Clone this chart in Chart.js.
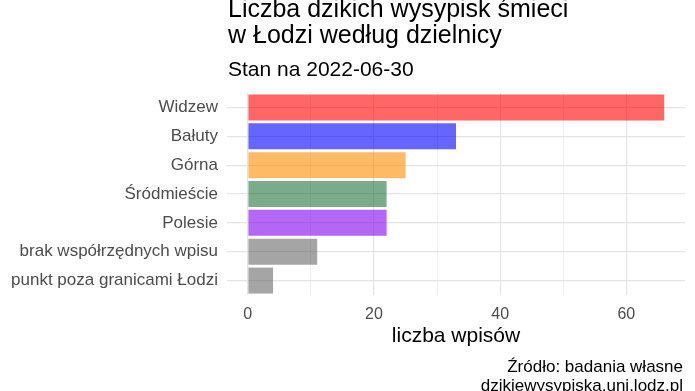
<!DOCTYPE html>
<html>
<head>
<meta charset="utf-8">
<script src="https://cdn.jsdelivr.net/npm/chart.js@4"></script>
<style>
  html, body { margin: 0; padding: 0; background: #fff; }
</style>
</head>
<body>
<canvas id="myChart" width="695" height="391"></canvas>
<script>
let districts = ["Widzew", "Bałuty", "Górna", "Śródmieście", "Polesie", "brak współrzędnych wpisu", "punkt poza granicami Łodzi"];
let counts = [66, 33, 25, 22, 22, 11, 4];
let barColors = [
    'rgba(255, 0, 0, 0.6)',
    'rgba(0, 0, 255, 0.6)',
    'rgba(255, 140, 0, 0.6)',
    'rgba(33, 117, 63, 0.6)',
    'rgba(140, 20, 240, 0.65)',
    'rgba(105, 105, 105, 0.6)',
    'rgba(105, 105, 105, 0.6)'
];
let xTicks = [0, 10, 20, 30, 40, 50, 60];
let xTickLabels = ["0", "", "20", "", "40", "", "60"];
let titleLines = ["Liczba dzikich wysypisk śmieci", "w Łodzi według dzielnicy"];
let subtitle = "Stan na 2022-06-30";
let xTitle = "liczba wpisów";
let captionLines = ["Źródło: badania własne", "dzikiewysypiska.uni.lodz.pl"];

const FONT = '"Liberation Sans", Arial, sans-serif';
let pad = Math.max(...counts) * 0.05;

// titles and caption, ggplot style, aligned to the panel
const textPlugin = {
    id: 'texts',
    afterDraw(chart) {
        let ctx = chart.ctx;
        let area = chart.chartArea;
        ctx.save();
        ctx.textBaseline = 'alphabetic';
        ctx.fillStyle = '#000';
        ctx.textAlign = 'left';
        ctx.font = '25px ' + FONT;
        for (let i = 0; i < titleLines.length; i++) {
            ctx.fillText(titleLines[i], area.left + 1, 17 + i * 26);
        }
        ctx.font = '21px ' + FONT;
        ctx.fillText(subtitle, area.left + 1, 76);
        ctx.textAlign = 'right';
        ctx.font = '17px ' + FONT;
        for (let i = 0; i < captionLines.length; i++) {
            ctx.fillText(captionLines[i], area.right - 2, 372 + i * 19);
        }
        ctx.restore();
    }
};

let data = {
    labels: districts,
    datasets: [{
        data: counts,
        backgroundColor: barColors,
        borderWidth: 0,
        barPercentage: 0.9,
        categoryPercentage: 1.0
    }]
};

let config = {
    type: 'bar',
    data: data,
    options: {
        indexAxis: 'y',
        responsive: false,
        animation: false,
        layout: { padding: { top: 93, bottom: 36, left: 0, right: 10 } },
        plugins: {
            legend: { display: false },
            tooltip: { enabled: false }
        },
        scales: {
            x: {
                min: -pad,
                max: Math.max(...counts) + pad,
                afterBuildTicks: function (scale) {
                    scale.ticks = xTicks.map(v => ({ value: v }));
                },
                afterFit: function (scale) {
                    scale.height = 60;
                },
                border: { display: false },
                grid: {
                    drawTicks: false,
                    color: '#e3e3e3',
                    lineWidth: ctx => (ctx.tick && ctx.tick.value % 20 === 0) ? 1.2 : 0.6
                },
                ticks: {
                    padding: 10,
                    color: '#4d4d4d',
                    font: { family: FONT, size: 16 },
                    maxRotation: 0,
                    autoSkip: false,
                    callback: function (value, index) {
                        return xTickLabels[index];
                    }
                },
                title: {
                    display: true,
                    text: xTitle,
                    color: '#000',
                    font: { family: FONT, size: 21 },
                    padding: { top: 0, bottom: 6 }
                }
            },
            y: {
                afterFit: function (scale) {
                    scale.width = 227;
                },
                border: { display: false },
                grid: {
                    offset: false,
                    drawTicks: false,
                    color: '#e3e3e3',
                    lineWidth: 1.2
                },
                ticks: {
                    padding: 9,
                    color: '#4d4d4d',
                    font: { family: FONT, size: 17 }
                }
            }
        }
    },
    plugins: [textPlugin]
};

let myChart = new Chart(document.getElementById('myChart'), config);
</script>
</body>
</html>
